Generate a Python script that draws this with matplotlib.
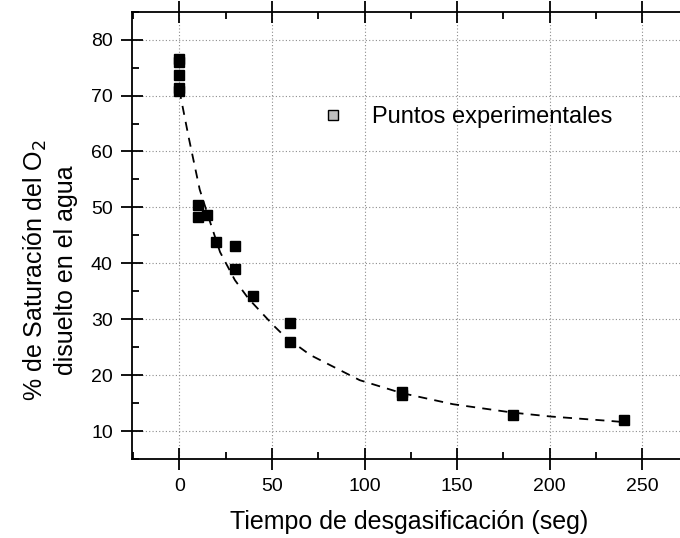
import matplotlib
matplotlib.use("Agg")
import matplotlib.pyplot as plt
from matplotlib.lines import Line2D
from matplotlib.ticker import MultipleLocator

plt.rcParams['font.family'] = ['Liberation Sans', 'DejaVu Sans']

# experimental points (time in s, % O2 saturation)
tiempo = [0, 0, 0, 0, 0, 10, 10, 15, 20, 30, 30, 40, 60, 60, 120, 120, 180, 240]
saturacion = [76.5, 76.0, 73.6, 71.4, 70.9, 50.4, 48.2, 48.7, 43.8, 43.1, 39.0,
              34.2, 29.4, 25.9, 17.0, 16.4, 12.9, 11.9]

# fitted decay curve
curva_x = [0, 5, 11, 16.6, 22, 30, 37.3, 50.8, 57, 70.7, 97.4, 120, 147.8,
           180, 200.5, 232.9, 240]
curva_y = [71.0, 62.6, 53.2, 47.4, 42.0, 37.0, 33.7, 28.9, 26.9, 23.6, 19.1,
           16.8, 14.8, 13.3, 12.6, 11.8, 11.6]

fig = plt.figure(figsize=(6.8, 5.38), dpi=100)
ax = fig.add_axes([132.3 / 680, 1 - 459 / 538, (688 - 132.3) / 680, (459 - 11.7) / 538])

ax.plot(curva_x, curva_y, color='black', lw=1.3, ls=(0, (5, 4)), zorder=2)
ax.plot(tiempo, saturacion, ls='none', marker='s', ms=7.5, mfc='black',
        mec='black', zorder=3)

ax.set_xlim(-25.4, 274.7)
ax.set_ylim(5, 85)
ax.xaxis.set_major_locator(MultipleLocator(50))
ax.xaxis.set_minor_locator(MultipleLocator(25))
ax.yaxis.set_major_locator(MultipleLocator(10))
ax.yaxis.set_minor_locator(MultipleLocator(5))

ax.grid(True, which='major', color='#8c8c8c', ls=(0, (1, 2)), lw=0.8)
ax.set_axisbelow(True)

for s in ['left', 'bottom', 'top']:
    ax.spines[s].set_linewidth(1.3)
ax.spines['right'].set_visible(False)

ax.tick_params(which='major', direction='inout', length=16, width=1.3,
               labelsize=14, pad=6)
ax.tick_params(which='minor', direction='in', length=5, width=1.3)
ax.tick_params(axis='x', which='both', top=True)
ax.tick_params(axis='x', which='major', labeltop=False)

ax.legend(handles=[Line2D([], [], marker='s', ls='none', ms=7, mfc='#c0c0c0',
                          mec='black', mew=1)],
          labels=['Puntos experimentales'], loc='center left',
          bbox_to_anchor=(321.2 / 680, 1 - 117 / 538),
          bbox_transform=fig.transFigure, frameon=False, fontsize=17,
          handlelength=1, handletextpad=1.15, borderpad=0, borderaxespad=0)

fig.text(409 / 680, 1 - 522 / 538, 'Tiempo de desgasificación (seg)',
         ha='center', va='center', fontsize=18)
fig.text(50 / 680, 1 - 270 / 538, '% de Saturación del O$_2$\ndisuelto en el agua',
         ha='center', va='center', rotation=90, fontsize=18,
         multialignment='center', linespacing=1.25)

fig.savefig('out.png', dpi=100)
